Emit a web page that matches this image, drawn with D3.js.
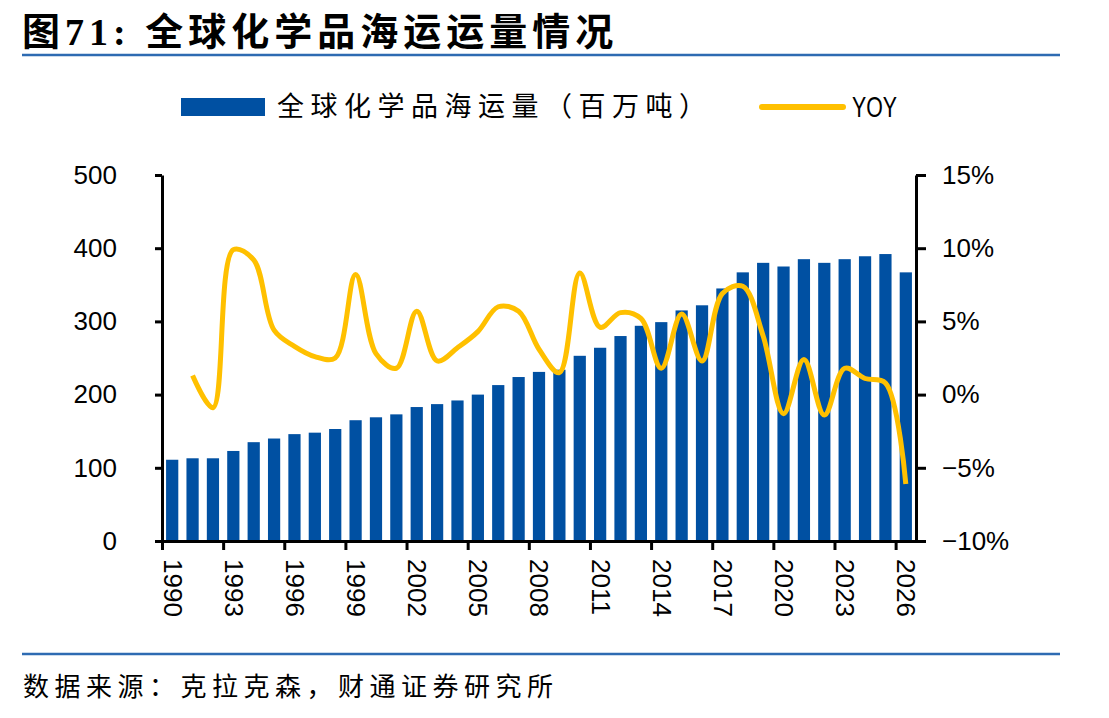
<!DOCTYPE html>
<html>
<head>
<meta charset="utf-8">
<script src="https://cdn.jsdelivr.net/npm/d3@7"></script>
<style>
  body { margin: 0; background: #fff; }
  text { font-family: "Liberation Sans", Arial, sans-serif; fill: #000; }
  .cjk { font-family: "Noto Sans CJK SC", sans-serif; }
</style>
</head>
<body>
<div id="chart"></div>
<script>
// data
const years = d3.range(1990, 2027);
const volume = [111, 113, 113, 123, 135, 140, 146, 148, 153, 165, 169, 173, 183, 187, 192,
  200, 213, 224, 231, 234, 253, 264, 280, 294, 299, 315, 322, 345, 367, 380, 375, 385,
  380, 385, 389, 392, 367];
// YOY starts in 1991
const yoyYears = d3.range(1991, 2027);
const yoy = [1.3, -0.9, 9.9, 9.2, 4.4, 3.3, 2.6, 2.5, 8.2, 2.8, 1.8, 5.7, 2.3, 3.2, 4.3,
  6.0, 5.7, 3.1, 1.5, 8.3, 4.6, 5.6, 5.2, 1.8, 5.5, 2.3, 6.9, 7.4, 4.0, -1.3, 2.4, -1.4,
  1.8, 1.1, 0.8, -6.1];
const leftTicks = [0, 100, 200, 300, 400, 500];
const rightTicks = [-10, -5, 0, 5, 10, 15];
const xTickYears = d3.range(1990, 2027, 3);

const width = 1109, height = 718;
const plotL = 162, plotR = 916, plotT = 175, plotB = 541;
const blue = "#0050A2", gold = "#FFC000", rule = "#2E6BB2";

let svg = d3.select("#chart").append("svg")
  .attr("width", width)
  .attr("height", height);

// title + rules
svg.append("text")
  .attr("x", 22).attr("y", 45)
  .style("font-family", "'Liberation Serif', 'Noto Sans CJK SC', serif")
  .style("font-weight", "bold")
  .style("font-size", "38px")
  .style("letter-spacing", "5px")
  .text("图71: 全球化学品海运运量情况");
svg.append("line").attr("x1", 22).attr("x2", 1060).attr("y1", 55).attr("y2", 55)
  .attr("stroke", rule).attr("stroke-width", 2.5);
svg.append("line").attr("x1", 22).attr("x2", 1060).attr("y1", 654).attr("y2", 654)
  .attr("stroke", rule).attr("stroke-width", 2.5);
svg.append("text").attr("class", "cjk")
  .attr("x", 23).attr("y", 696)
  .style("font-size", "26px")
  .style("letter-spacing", "5.5px")
  .text("数据来源：克拉克森，财通证券研究所");

// scales
let x = d3.scaleBand().domain(years).range([plotL, plotR]).paddingInner(0.4).paddingOuter(0.2);
let xLin = d3.scaleLinear().domain([1990, 2027]).range([plotL, plotR]);
let yL = d3.scaleLinear().domain([0, 500]).range([plotB, plotT]);
let yR = d3.scaleLinear().domain([-10, 15]).range([plotB, plotT]);

// bars
svg.append("g").selectAll("rect")
  .data(years)
  .enter()
  .append("rect")
  .attr("x", (d) => x(d))
  .attr("width", x.bandwidth())
  .attr("y", (d, i) => yL(volume[i]))
  .attr("height", (d, i) => plotB - yL(volume[i]))
  .attr("fill", blue);

// yoy line
let line = d3.line()
  .x((d, i) => x(yoyYears[i]) + x.bandwidth() / 2)
  .y((d) => yR(d))
  .curve(d3.curveCatmullRom.alpha(0.5));
svg.append("path")
  .datum(yoy)
  .attr("d", line)
  .attr("fill", "none")
  .attr("stroke", gold)
  .attr("stroke-width", 5)
  .attr("stroke-linejoin", "round");

// axes
let axL = svg.append("g").attr("transform", `translate(${plotL},0)`)
  .call(d3.axisLeft(yL).tickValues(leftTicks).tickSize(7).tickSizeOuter(0).tickPadding(38));
let axR = svg.append("g").attr("transform", `translate(${plotR},0)`)
  .call(d3.axisRight(yR).tickValues(rightTicks).tickSize(10).tickSizeOuter(0).tickPadding(16)
    .tickFormat((d) => (d < 0 ? "\u2212" + Math.abs(d) : d) + "%"));
let axB = svg.append("g").attr("transform", `translate(0,${plotB})`)
  .call(d3.axisBottom(xLin).tickValues(xTickYears).tickSize(9).tickSizeOuter(0)
    .tickFormat(d3.format("d")));
axB.selectAll("text")
  .attr("transform", `translate(${x.step() / 2},18) rotate(90)`)
  .attr("x", 0).attr("y", 0).attr("dy", "0.35em")
  .style("text-anchor", "start");

[axL, axR, axB].forEach((g) => {
  g.select(".domain").attr("stroke", "#000").attr("stroke-width", 3);
  g.selectAll(".tick line").attr("stroke", "#000").attr("stroke-width", 3);
  g.selectAll("text").style("font-size", "26px").style("font-family", "'Liberation Sans', Arial, sans-serif");
});

// legend
svg.append("rect").attr("x", 181).attr("y", 98).attr("width", 84).attr("height", 18).attr("fill", blue);
svg.append("text").attr("class", "cjk")
  .attr("x", 277).attr("y", 116)
  .style("font-size", "27px")
  .style("letter-spacing", "6.5px")
  .text("全球化学品海运量（百万吨）");
svg.append("line").attr("x1", 762).attr("x2", 843).attr("y1", 107).attr("y2", 107)
  .attr("stroke", gold).attr("stroke-width", 6).attr("stroke-linecap", "round");
svg.append("text")
  .attr("x", 852).attr("y", 117)
  .attr("textLength", 45)
  .attr("lengthAdjust", "spacingAndGlyphs")
  .style("font-size", "30px")
  .text("YOY");
</script>
</body>
</html>
